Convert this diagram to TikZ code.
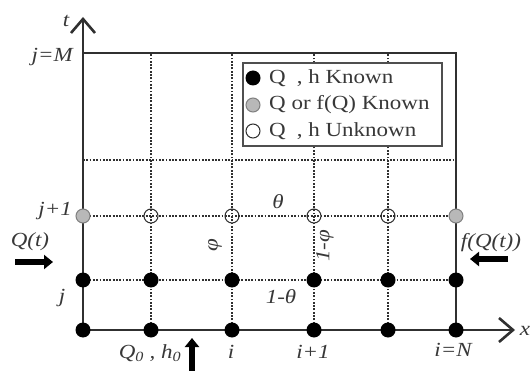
\documentclass[tikz,border=0pt]{standalone}
\usepackage{fontspec}
\setmainfont{Liberation Serif}[FakeStretch=1.15]
\usetikzlibrary{arrows.meta}
\definecolor{lc}{HTML}{303030}
\definecolor{tc}{HTML}{383838}
\definecolor{gf}{HTML}{B8B8B8}
\begin{document}
\begin{tikzpicture}[x=1pt,y=-1pt,
  axisline/.style={line width=2.6pt, draw=lc, -{Straight Barb[length=14pt,width=24pt]}},
  border/.style={line width=2.6pt, draw=lc},
  gridline/.style={line width=2pt, draw=lc, dash pattern=on 1.8pt off 1.5pt},
  kn/.style={circle, fill=black, minimum size=15pt, inner sep=0pt},
  gr/.style={circle, fill=gf, draw=gray, line width=1pt, minimum size=14pt, inner sep=0pt},
  un/.style={circle, draw=lc, line width=1pt, minimum size=14pt, inner sep=0pt},
  lbl/.style={font=\fontsize{20}{24}\selectfont\itshape, text=tc, inner sep=0pt},
  legtxt/.style={font=\fontsize{20}{24}\selectfont, text=tc, inner sep=0pt, anchor=west},
  blk/.style={line width=6pt, draw=black, -{Triangle[length=9pt,width=14pt]}}
]
\useasboundingbox (0,0) rectangle (532,371);
% grid coordinates
\foreach \c/\x in {0/83,1/151,2/232,3/314,4/388,5/456}{
  \foreach \r/\y in {0/330,1/280,2/216,3/160,4/53}{
    \coordinate (p\c\r) at (\x,\y);
  }
}
% dotted grid
\foreach \c in {1,2,3,4}{ \draw[gridline] (p\c0) -- (p\c4); }
\foreach \r in {1,2,3}{ \draw[gridline] (p0\r) -- (p5\r); }
% borders
\draw[border] (p04) -- (p54) -- (p50);
% axes
\coordinate (tend) at (83,17);
\coordinate (xend) at (515,330);
\coordinate (ostart) at (83,331);
\draw[axisline] (ostart) -- (tend);
\draw[axisline] (p00) -- (xend);
% legend
\node[draw=lc!85, line width=1.2pt, fill=white, minimum width=199pt, minimum height=83pt, inner sep=0pt] (legend) at (342.5,104.5) {};
\node[kn] (lk) at (253,78) {};
\node[gr] (lg) at (253,105) {};
\node[un, fill=white] (lu) at (253,131) {};
\node[legtxt] (tk) at (269,78) {Q\hspace{0.55em}, h Known};
\node[legtxt] (tg) at (269,105) {Q or f(Q) Known};
\node[legtxt] (tu) at (269,131) {Q\hspace{0.55em}, h Unknown};
% dots
\foreach \c in {0,...,5}{
  \node[kn] (d\c0) at (p\c0) {};
  \node[kn] (d\c1) at (p\c1) {};
}
\node[gr] (d02) at (p02) {};
\node[gr] (d52) at (p52) {};
\foreach \c in {1,2,3,4}{ \node[un] (d\c2) at (p\c2) {}; }
% labels
\node[lbl] (lt) at (66,21) {t};
\node[lbl, anchor=east] (ljm) at (73,57) {j=M};
\node[lbl, anchor=east] (lj1) at (72,211) {j+1};
\node[lbl] (lj) at (62,298) {j};
\node[lbl] (lqt) at (30,242) {Q(t)};
\node[lbl] (lfq) at (491,243) {f(Q(t))};
\node[lbl] (lx) at (525,331) {x};
\node[lbl] (lq0) at (150,353) {Q\textsubscript{0} , h\textsubscript{0}};
\node[lbl] (li) at (231,352) {i};
\node[lbl] (li1) at (313,352) {i+1};
\node[lbl] (liN) at (453,350) {i=N};
\node[lbl] (lth) at (278,202) {θ};
\node[lbl, rotate=90] (lph) at (215,245) {φ};
\node[lbl, rotate=90] (l1ph) at (325,246) {1-φ};
\node[lbl] (l1th) at (281,297) {1-θ};
% block arrows
\coordinate (qa) at (15,262); \coordinate (qb) at (53,262);
\coordinate (fa) at (508,259); \coordinate (fb) at (470,259);
\coordinate (ua) at (192,371); \coordinate (ub) at (192,338);
\draw[blk] (qa) -- (qb);
\draw[blk] (fa) -- (fb);
\draw[blk] (ua) -- (ub);
\end{tikzpicture}
\end{document}
